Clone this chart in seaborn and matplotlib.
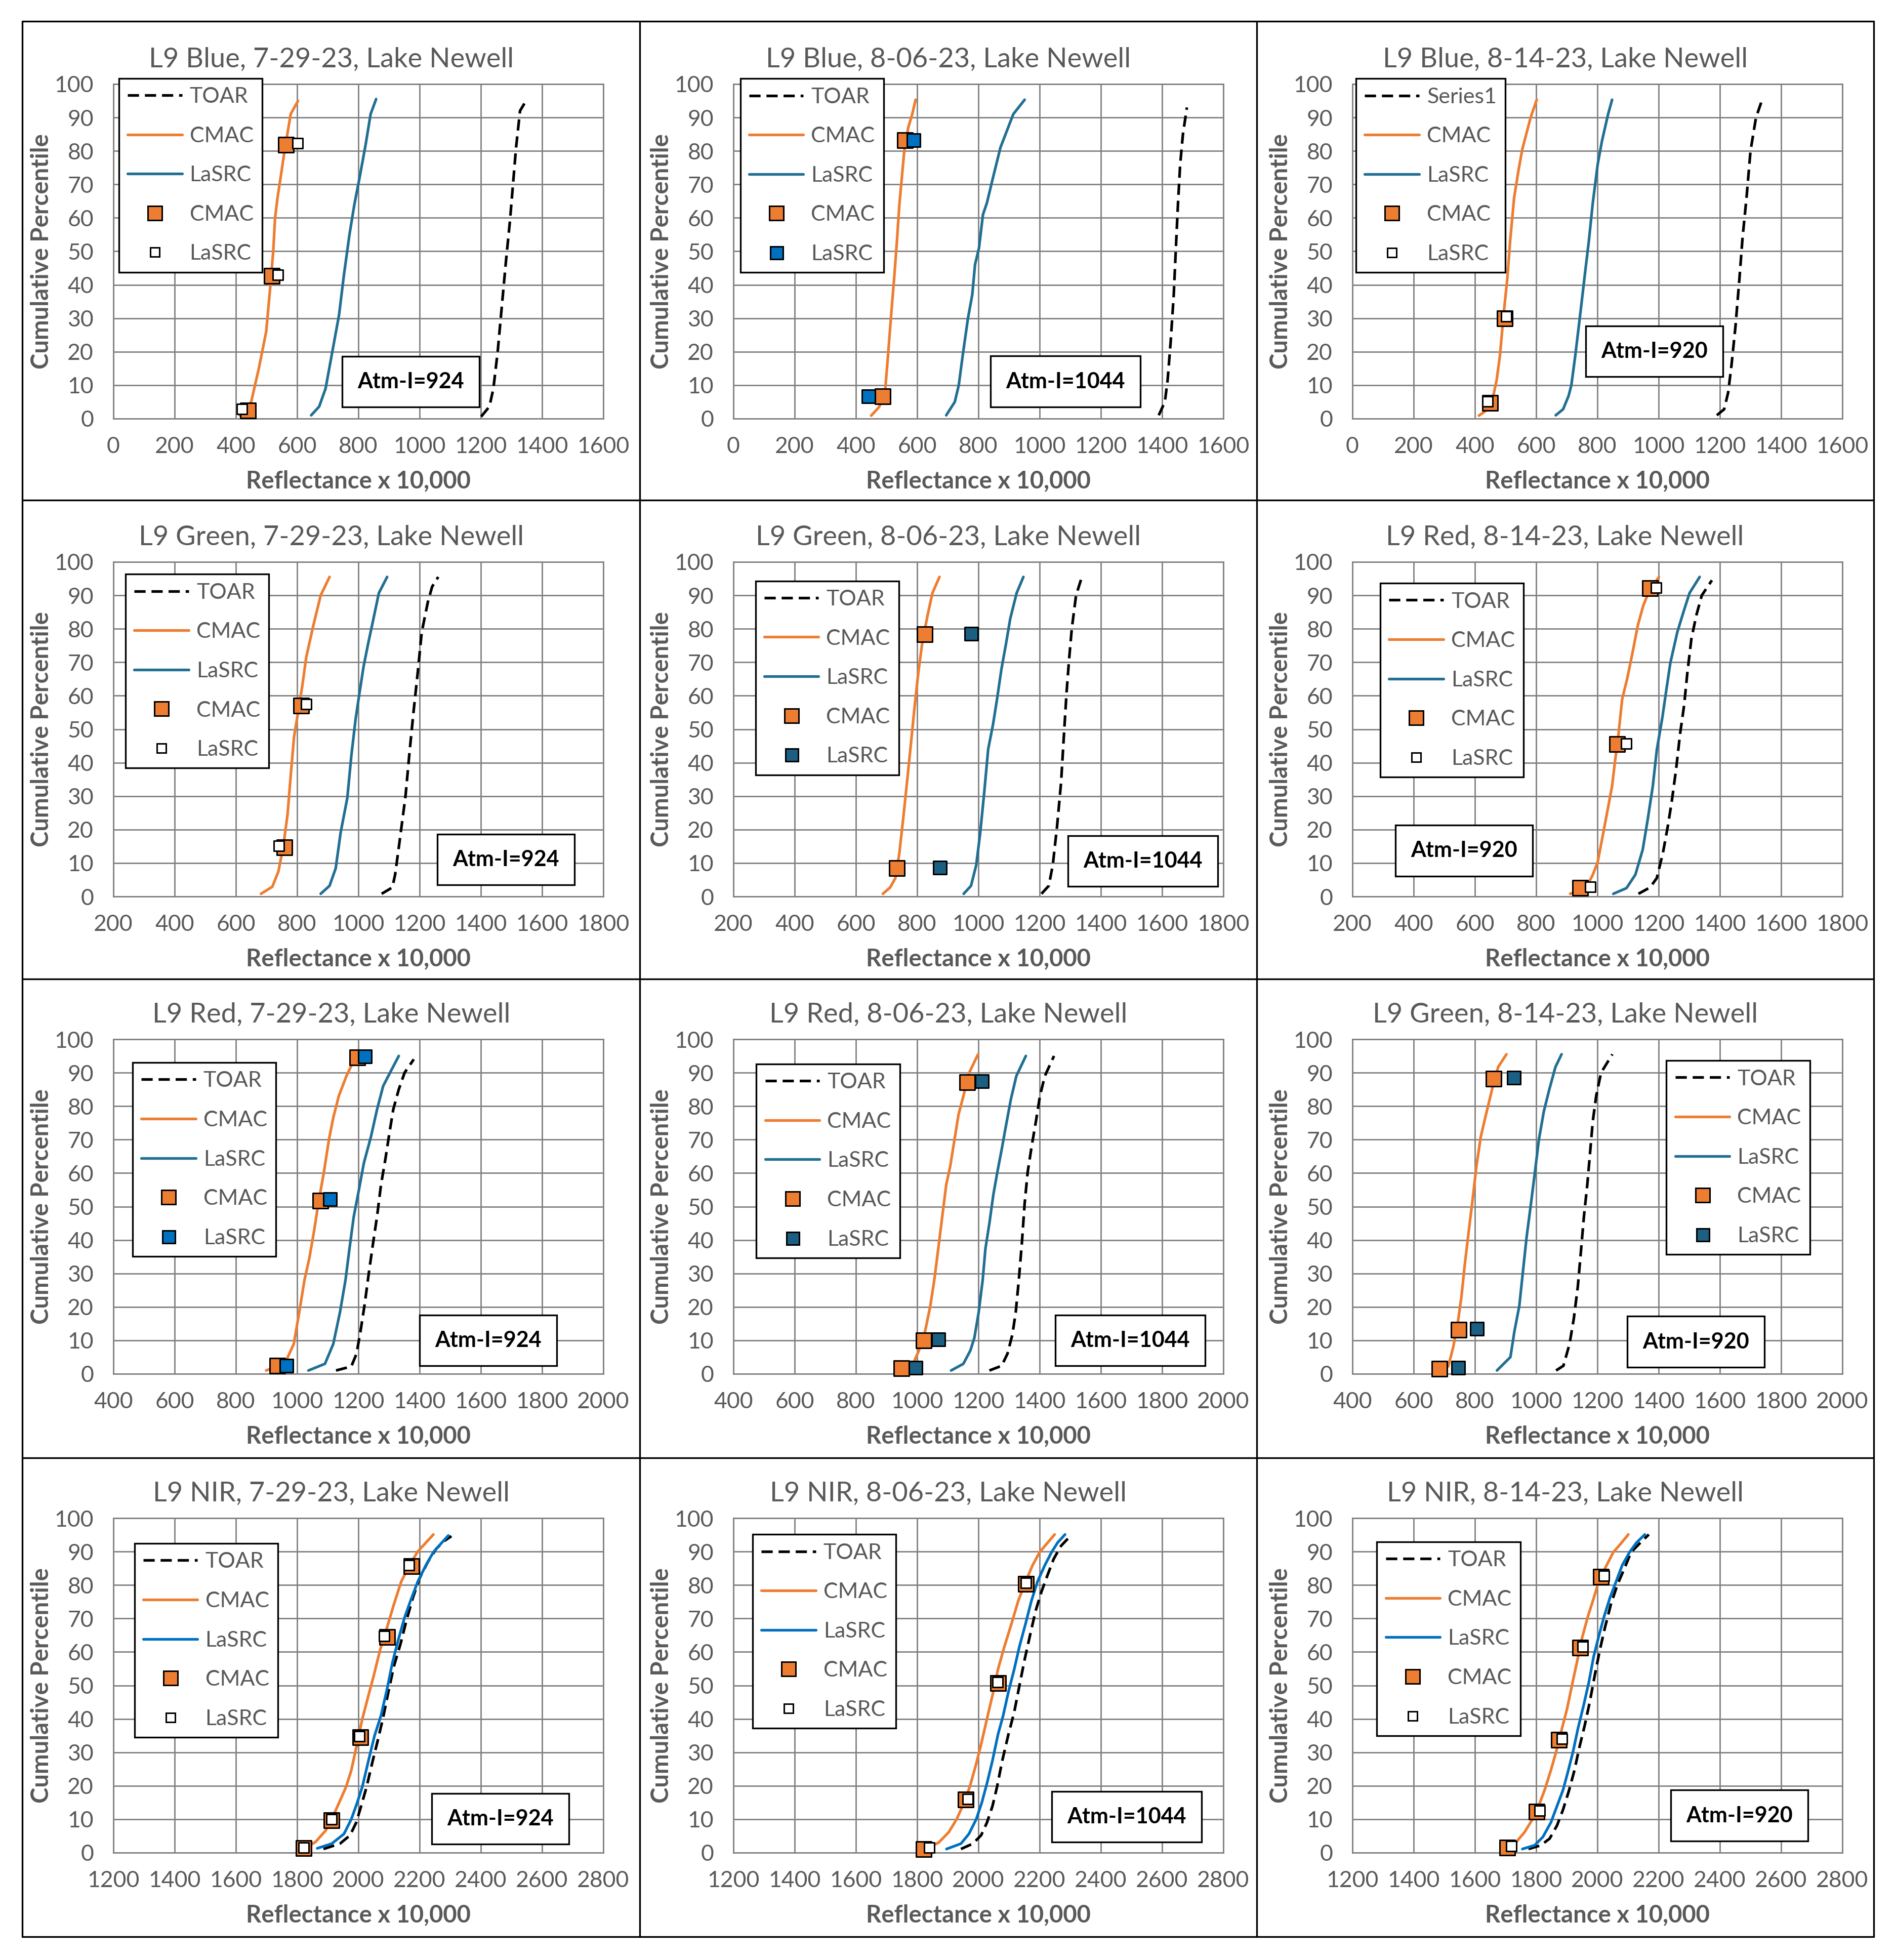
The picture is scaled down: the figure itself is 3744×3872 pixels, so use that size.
import matplotlib
matplotlib.use("Agg")
import matplotlib.pyplot as plt
import seaborn as sns
from matplotlib.lines import Line2D

# ------------------------------------------------------------------ data
TITLES = ["L9 Blue, 7-29-23, Lake Newell", "L9 Blue, 8-06-23, Lake Newell", "L9 Blue, 8-14-23, Lake Newell",
          "L9 Green, 7-29-23, Lake Newell", "L9 Green, 8-06-23, Lake Newell", "L9 Red, 8-14-23, Lake Newell",
          "L9 Red, 7-29-23, Lake Newell", "L9 Red, 8-06-23, Lake Newell", "L9 Green, 8-14-23, Lake Newell",
          "L9 NIR, 7-29-23, Lake Newell", "L9 NIR, 8-06-23, Lake Newell", "L9 NIR, 8-14-23, Lake Newell"]
ATM_LABELS = ["Atm-I=924", "Atm-I=1044", "Atm-I=920",
              "Atm-I=924", "Atm-I=1044", "Atm-I=920",
              "Atm-I=924", "Atm-I=1044", "Atm-I=920",
              "Atm-I=924", "Atm-I=1044", "Atm-I=920"]
FIRST_LEGEND_LABEL = ["TOAR", "TOAR", "Series1", "TOAR", "TOAR", "TOAR",
                      "TOAR", "TOAR", "TOAR", "TOAR", "TOAR", "TOAR"]
X_MIN = [0, 0, 0, 200, 200, 200, 400, 400, 400, 1200, 1200, 1200]
X_MAX = [1600, 1600, 1600, 1800, 1800, 1800, 2000, 2000, 2000, 2800, 2800, 2800]
Y_TICKS = [0, 10, 20, 30, 40, 50, 60, 70, 80, 90, 100]
X_LABEL = "Reflectance x 10,000"
Y_LABEL = "Cumulative Percentile"

# Panel 1  Blue 7-29
P1_TOAR_X = [1201, 1228, 1241, 1255, 1268, 1282, 1295, 1305, 1315, 1328, 1351]
P1_TOAR_P = [0.6, 3.6, 9, 20, 33, 47, 59, 70, 81, 92, 95.5]
P1_CMAC_X = [412, 450, 475, 499, 512, 522, 528, 536, 546, 559, 579, 603]
P1_CMAC_P = [1, 5, 15, 26, 39, 50, 60, 66, 72, 80, 91, 95]
P1_LASRC_X = [646, 672, 693, 713, 737, 753, 771, 787, 804, 824, 840, 858]
P1_LASRC_P = [1, 3.6, 9, 19, 31, 43, 55, 64, 72, 82, 91, 95.5]
P1_CMAC_PT_X = [439, 518, 563]
P1_CMAC_PT_P = [2.4, 42.7, 81.9]
P1_LASRC_PT_X = [420, 538, 602]
P1_LASRC_PT_P = [2.9, 43, 82.3]

# Panel 2  Blue 8-06
P2_TOAR_X = [1389, 1409, 1418, 1428, 1438, 1445, 1452, 1459, 1468, 1481]
P2_TOAR_P = [1, 5, 11.5, 23, 37, 51, 64.5, 76, 85, 93]
P2_CMAC_X = [450, 476, 495, 505, 516, 525, 534, 542, 549, 558, 571, 584, 595]
P2_CMAC_P = [0.9, 3.5, 7.8, 19, 32, 42, 53, 64, 71, 80, 87, 91, 95.3]
P2_LASRC_X = [695, 723, 736, 749, 766, 780, 789, 802, 815, 828, 845, 872, 914, 951]
P2_LASRC_P = [1, 5, 10, 19, 30, 37, 46, 51, 61, 64.5, 71, 81, 91, 95.3]
P2_CMAC_PT_X = [487, 561]
P2_CMAC_PT_P = [6.6, 83.2]
P2_LASRC_PT_X = [442, 588]
P2_LASRC_PT_P = [6.6, 83.2]

# Panel 3  Blue 8-14
P3_TOAR_X = [1190, 1214, 1227, 1238, 1251, 1264, 1274, 1287, 1300, 1318, 1338]
P3_TOAR_P = [1, 2.8, 7.8, 16, 27.6, 42, 54, 66, 80, 90, 95.3]
P3_CMAC_X = [413, 435, 458, 471, 482, 493, 506, 515, 528, 542, 555, 582, 602]
P3_CMAC_P = [0.9, 2.3, 5.9, 11.5, 19, 30.5, 42, 53, 66, 74, 80.6, 90, 95.3]
P3_LASRC_X = [664, 688, 706, 715, 728, 745, 759, 772, 785, 801, 815, 835, 848]
P3_LASRC_P = [1, 2.8, 6.8, 10, 19, 32, 43, 53, 64.5, 76, 83, 91, 95.3]
P3_CMAC_PT_X = [449, 498]
P3_CMAC_PT_P = [4.7, 30]
P3_LASRC_PT_X = [441, 503]
P3_LASRC_PT_P = [5.1, 30.5]

# Panel 4  Green 7-29
P4_TOAR_X = [1076, 1111, 1120, 1134, 1154, 1167, 1180, 1194, 1207, 1227, 1241, 1261]
P4_TOAR_P = [0.8, 2.7, 6.5, 16, 30, 43, 55, 67, 79, 88, 92.6, 95.5]
P4_CMAC_X = [682, 719, 739, 755, 769, 779, 790, 803, 817, 830, 853, 877, 906]
P4_CMAC_P = [0.8, 2.9, 7.5, 15, 24.7, 36, 47.7, 55, 63, 71.6, 81, 90, 95.5]
P4_LASRC_X = [877, 906, 926, 942, 964, 977, 991, 1004, 1017, 1033, 1047, 1067, 1094]
P4_LASRC_P = [0.8, 3.2, 8.4, 19, 29.5, 42, 53, 61, 68.7, 76, 82, 90.7, 95.5]
P4_CMAC_PT_X = [759, 813]
P4_CMAC_PT_P = [14.6, 57]
P4_LASRC_PT_X = [740, 829]
P4_LASRC_PT_P = [15.1, 57.5]

# Panel 5  Green 8-06
P5_TOAR_X = [1206, 1230, 1243, 1257, 1270, 1279, 1288, 1296, 1305, 1319, 1338]
P5_TOAR_P = [0.8, 3.2, 9.4, 21, 34, 47.7, 61, 70.6, 80, 90, 95.5]
P5_CMAC_X = [688, 712, 729, 742, 755, 769, 782, 792, 804, 817, 834, 850, 873]
P5_CMAC_P = [0.8, 2.7, 5.5, 13, 23.7, 36, 47.7, 57, 67, 76, 84, 90.7, 95.5]
P5_LASRC_X = [952, 976, 993, 1006, 1019, 1032, 1048, 1061, 1075, 1090, 1104, 1125, 1147]
P5_LASRC_P = [0.8, 3.2, 9.4, 19, 31, 44, 51.5, 59, 67.8, 75.4, 83, 90.7, 95.5]
P5_CMAC_PT_X = [734, 825]
P5_CMAC_PT_P = [8.4, 78.3]
P5_LASRC_PT_X = [874, 977]
P5_LASRC_PT_P = [8.6, 78.5]

# Panel 6  Red 8-14
P6_TOAR_X = [1134, 1172, 1194, 1214, 1230, 1243, 1257, 1270, 1283, 1294, 1307, 1323, 1341, 1374]
P6_TOAR_P = [0.8, 2.7, 5.5, 13, 21, 28.5, 38, 48.6, 57, 67, 77, 84, 90, 94.5]
P6_CMAC_X = [911, 964, 985, 1001, 1015, 1031, 1048, 1057, 1068, 1081, 1097, 1114, 1132, 1150, 1168, 1201]
P6_CMAC_P = [0.8, 2.7, 6.5, 10.3, 17, 24.7, 33, 40, 47.7, 59, 65, 72.5, 81, 87, 91, 95.5]
P6_LASRC_X = [1052, 1095, 1124, 1148, 1164, 1181, 1194, 1212, 1224, 1238, 1261, 1281, 1301, 1334]
P6_LASRC_P = [0.8, 2.5, 6.5, 14, 22.8, 33, 43.8, 53.4, 61, 69.7, 79, 85, 90.7, 95.5]
P6_CMAC_PT_X = [944, 1064, 1172]
P6_CMAC_PT_P = [2.5, 45.5, 92.2]
P6_LASRC_PT_X = [977, 1095, 1192]
P6_LASRC_PT_P = [2.9, 45.7, 92.3]

# Panel 7  Red 7-29
P7_TOAR_X = [1127, 1177, 1194, 1207, 1221, 1234, 1248, 1261, 1274, 1288, 1301, 1314, 1332, 1351, 1381]
P7_TOAR_P = [1, 2.2, 6, 12.7, 21, 30, 39, 47, 56.5, 64, 71.7, 79, 85, 90, 94]
P7_CMAC_X = [899, 960, 989, 1007, 1024, 1040, 1056, 1069, 1087, 1104, 1118, 1136, 1161, 1187]
P7_CMAC_P = [1, 3.1, 8.9, 18.4, 28, 34.6, 43, 50.8, 60, 70, 76.5, 83, 89, 94]
P7_LASRC_X = [1037, 1091, 1118, 1140, 1158, 1171, 1185, 1201, 1218, 1241, 1261, 1281, 1308, 1332]
P7_LASRC_P = [1, 3, 8.9, 18.4, 28, 37.4, 47, 54.6, 63, 70.8, 79, 86, 90.8, 95]
P7_CMAC_PT_X = [936, 1076, 1197]
P7_CMAC_PT_P = [2.4, 51.7, 94.6]
P7_LASRC_PT_X = [966, 1107, 1222]
P7_LASRC_PT_P = [2.4, 52.2, 94.9]

# Panel 8  Red 8-06
P8_TOAR_X = [1236, 1276, 1295, 1311, 1322, 1332, 1342, 1351, 1361, 1374, 1388, 1401, 1417, 1447]
P8_TOAR_P = [1, 2.4, 6, 11.7, 18.4, 28, 39, 50.8, 60.3, 68, 75.5, 83, 89, 95]
P8_CMAC_X = [983, 1006, 1026, 1043, 1056, 1069, 1082, 1095, 1108, 1122, 1135, 1151, 1170, 1199]
P8_CMAC_P = [2.2, 7, 12.7, 20.3, 28, 37.4, 47, 56.5, 62, 70, 77.4, 83, 90, 95.5]
P8_LASRC_X = [1111, 1151, 1174, 1187, 1201, 1214, 1223, 1236, 1249, 1262, 1276, 1289, 1306, 1324, 1355]
P8_LASRC_P = [1, 3, 7, 10.8, 18.4, 28, 37.4, 45, 53.6, 60.3, 67, 73.6, 82, 89, 95]
P8_CMAC_PT_X = [949, 1022, 1164]
P8_CMAC_PT_P = [1.6, 10, 87.2]
P8_LASRC_PT_X = [995, 1069, 1212]
P8_LASRC_PT_P = [1.8, 10.3, 87.4]

# Panel 9  Green 8-14
P9_TOAR_X = [1065, 1089, 1109, 1123, 1136, 1147, 1156, 1167, 1176, 1185, 1196, 1212, 1249]
P9_TOAR_P = [1, 2.4, 8.9, 16.5, 26, 37.4, 47, 56.5, 66, 75.5, 83, 90, 95.5]
P9_CMAC_X = [713, 729, 743, 756, 767, 779, 792, 805, 819, 836, 856, 876, 903]
P9_CMAC_P = [2.2, 7.9, 14.6, 23, 32.7, 42, 51.7, 62, 70.8, 77.4, 85, 91.7, 95.5]
P9_LASRC_X = [872, 916, 929, 945, 956, 969, 983, 996, 1009, 1025, 1043, 1063, 1083]
P9_LASRC_P = [1, 5, 12.7, 20.3, 29.8, 41, 50.8, 60.3, 70, 78.4, 85, 91.7, 95.5]
P9_CMAC_PT_X = [685, 747, 861]
P9_CMAC_PT_P = [1.5, 13.1, 88.2]
P9_LASRC_PT_X = [745, 807, 927]
P9_LASRC_PT_P = [1.8, 13.4, 88.5]

# Panel 10  NIR 7-29
P10_TOAR_X = [1886, 1940, 1973, 1993, 2009, 2027, 2047, 2063, 2080, 2098, 2116, 2138, 2157, 2178, 2200, 2227, 2254, 2281, 2304]
P10_TOAR_P = [1.1, 2.7, 5.2, 9, 13.9, 19.7, 27.5, 33.4, 40, 48, 55.7, 62.5, 69.4, 76.2, 82, 86.9, 90.8, 93.2, 94.6]
P10_CMAC_X = [1822, 1860, 1893, 1913, 1937, 1960, 1977, 1993, 2013, 2033, 2050, 2071, 2094, 2116, 2140, 2167, 2194, 2221, 2245]
P10_CMAC_P = [1.1, 3.2, 6.6, 10, 14.9, 19.7, 24.6, 31.4, 40, 47, 52.8, 60.6, 67.4, 74.2, 81, 86, 90, 92.7, 95.1]
P10_LASRC_X = [1866, 1913, 1953, 1977, 1996, 2013, 2033, 2053, 2074, 2094, 2111, 2130, 2151, 2174, 2194, 2221, 2245, 2268, 2294]
P10_LASRC_P = [1.3, 2.7, 5.6, 10, 14.9, 19.7, 27.5, 35, 41, 49, 56.7, 63.5, 70.3, 76.2, 81, 86, 89.8, 92.2, 94.8]
P10_CMAC_PT_X = [1821, 1913, 2007, 2094, 2174]
P10_CMAC_PT_P = [1.3, 9.7, 34.5, 64.5, 85.7]
P10_LASRC_PT_X = [1821, 1913, 2004, 2085, 2165]
P10_LASRC_PT_P = [1.5, 10, 34.8, 64.8, 85.9]

# Panel 11  NIR 8-06
P11_TOAR_X = [1943, 1982, 2009, 2028, 2046, 2061, 2078, 2098, 2117, 2134, 2151, 2170, 2187, 2206, 2226, 2246, 2270, 2305]
P11_TOAR_P = [1.1, 2.7, 5.2, 9, 13.9, 19.7, 27.5, 35.3, 42, 49.9, 57.7, 65.5, 72.3, 78, 83, 87.8, 91.7, 95.1]
P11_CMAC_X = [1824, 1870, 1903, 1929, 1953, 1972, 1993, 2009, 2028, 2046, 2064, 2085, 2108, 2130, 2154, 2177, 2200, 2222, 2249]
P11_CMAC_P = [1.1, 3, 6.1, 10, 14.9, 19.7, 26.6, 32.4, 40, 47, 54.8, 61.6, 68.4, 75.2, 81, 85.9, 89.8, 92.2, 95.1]
P11_LASRC_X = [1896, 1943, 1969, 1993, 2011, 2028, 2046, 2064, 2081, 2098, 2117, 2134, 2154, 2173, 2193, 2217, 2239, 2259, 2283]
P11_LASRC_P = [1.1, 2.7, 5.6, 10, 14.9, 20.7, 27.5, 35.3, 41, 48, 54.8, 61.6, 68.4, 75.2, 81, 85.9, 89.8, 92.7, 95.1]
P11_CMAC_PT_X = [1821, 1959, 2065, 2156]
P11_CMAC_PT_P = [1.1, 15.9, 50.7, 80.3]
P11_LASRC_PT_X = [1840, 1965, 2063, 2155]
P11_LASRC_PT_P = [1.5, 16.1, 51, 80.7]

# Panel 12  NIR 8-14
P12_TOAR_X = [1775, 1815, 1844, 1868, 1888, 1908, 1925, 1941, 1959, 1975, 1991, 2008, 2025, 2044, 2065, 2088, 2110, 2141, 2168]
P12_TOAR_P = [1.1, 2.2, 4.2, 8.1, 12.9, 18.8, 24.6, 31.4, 38.2, 45, 52.8, 60.6, 67.4, 74.2, 80, 84.9, 89.8, 92.7, 95.1]
P12_CMAC_X = [1706, 1735, 1762, 1788, 1808, 1828, 1848, 1866, 1882, 1901, 1919, 1935, 1948, 1968, 1985, 2001, 2025, 2052, 2075, 2101]
P12_CMAC_P = [1.5, 3.2, 6.1, 10, 13.9, 18.8, 24.6, 30.4, 36.3, 43, 50.9, 57.7, 63.5, 70.3, 75.2, 80, 85, 89.8, 92.2, 95.1]
P12_LASRC_X = [1755, 1795, 1822, 1848, 1868, 1888, 1905, 1921, 1937, 1955, 1972, 1988, 2004, 2021, 2041, 2061, 2081, 2105, 2128, 2155]
P12_LASRC_P = [1.1, 2.2, 4.7, 9, 13.9, 18.8, 24.6, 30.4, 37.3, 44, 50.9, 58.7, 64.5, 70.3, 76.2, 81, 85.9, 89.8, 92.7, 95.1]
P12_CMAC_PT_X = [1706, 1802, 1875, 1944, 2012]
P12_CMAC_PT_P = [1.5, 12.3, 33.7, 61.3, 82.5]
P12_LASRC_PT_X = [1719, 1811, 1884, 1952, 2021]
P12_LASRC_PT_P = [2, 12.6, 34.1, 61.6, 82.7]

PANEL_DATA = [
    (P1_TOAR_X, P1_TOAR_P, P1_CMAC_X, P1_CMAC_P, P1_LASRC_X, P1_LASRC_P, P1_CMAC_PT_X, P1_CMAC_PT_P, P1_LASRC_PT_X, P1_LASRC_PT_P),
    (P2_TOAR_X, P2_TOAR_P, P2_CMAC_X, P2_CMAC_P, P2_LASRC_X, P2_LASRC_P, P2_CMAC_PT_X, P2_CMAC_PT_P, P2_LASRC_PT_X, P2_LASRC_PT_P),
    (P3_TOAR_X, P3_TOAR_P, P3_CMAC_X, P3_CMAC_P, P3_LASRC_X, P3_LASRC_P, P3_CMAC_PT_X, P3_CMAC_PT_P, P3_LASRC_PT_X, P3_LASRC_PT_P),
    (P4_TOAR_X, P4_TOAR_P, P4_CMAC_X, P4_CMAC_P, P4_LASRC_X, P4_LASRC_P, P4_CMAC_PT_X, P4_CMAC_PT_P, P4_LASRC_PT_X, P4_LASRC_PT_P),
    (P5_TOAR_X, P5_TOAR_P, P5_CMAC_X, P5_CMAC_P, P5_LASRC_X, P5_LASRC_P, P5_CMAC_PT_X, P5_CMAC_PT_P, P5_LASRC_PT_X, P5_LASRC_PT_P),
    (P6_TOAR_X, P6_TOAR_P, P6_CMAC_X, P6_CMAC_P, P6_LASRC_X, P6_LASRC_P, P6_CMAC_PT_X, P6_CMAC_PT_P, P6_LASRC_PT_X, P6_LASRC_PT_P),
    (P7_TOAR_X, P7_TOAR_P, P7_CMAC_X, P7_CMAC_P, P7_LASRC_X, P7_LASRC_P, P7_CMAC_PT_X, P7_CMAC_PT_P, P7_LASRC_PT_X, P7_LASRC_PT_P),
    (P8_TOAR_X, P8_TOAR_P, P8_CMAC_X, P8_CMAC_P, P8_LASRC_X, P8_LASRC_P, P8_CMAC_PT_X, P8_CMAC_PT_P, P8_LASRC_PT_X, P8_LASRC_PT_P),
    (P9_TOAR_X, P9_TOAR_P, P9_CMAC_X, P9_CMAC_P, P9_LASRC_X, P9_LASRC_P, P9_CMAC_PT_X, P9_CMAC_PT_P, P9_LASRC_PT_X, P9_LASRC_PT_P),
    (P10_TOAR_X, P10_TOAR_P, P10_CMAC_X, P10_CMAC_P, P10_LASRC_X, P10_LASRC_P, P10_CMAC_PT_X, P10_CMAC_PT_P, P10_LASRC_PT_X, P10_LASRC_PT_P),
    (P11_TOAR_X, P11_TOAR_P, P11_CMAC_X, P11_CMAC_P, P11_LASRC_X, P11_LASRC_P, P11_CMAC_PT_X, P11_CMAC_PT_P, P11_LASRC_PT_X, P11_LASRC_PT_P),
    (P12_TOAR_X, P12_TOAR_P, P12_CMAC_X, P12_CMAC_P, P12_LASRC_X, P12_LASRC_P, P12_CMAC_PT_X, P12_CMAC_PT_P, P12_LASRC_PT_X, P12_LASRC_PT_P),
]

# ------------------------------------------------------------------ styles
ORANGE = "#ED7D31"
TEAL_LINE = "#216F93"
BLUE = "#0070C0"
TEAL_MARK = "#1B5F82"
GRAY_TXT = "#595959"
GRID = "#808080"
LASRC_LINE_COLOR = [TEAL_LINE] * 9 + [BLUE] * 3
LASRC_MARK_COLOR = ["white", BLUE, "white", "white", TEAL_MARK, "white",
                    BLUE, TEAL_MARK, TEAL_MARK, "white", "white", "white"]
LEGEND_POS = [(0.011, 1.017), (0.014, 1.016), (0.0075, 1.016),
              (0.025, 0.963), (0.045, 0.943), (0.057, 0.936),
              (0.039, 0.930), (0.047, 0.926), (0.641, 0.936),
              (0.043, 0.924), (0.039, 0.951), (0.050, 0.929)]
ATM_POS = [(0.607, 0.110), (0.678, 0.111), (0.616, 0.201),
           (0.801, 0.110), (0.836, 0.106), (0.228, 0.137),
           (0.765, 0.100), (0.810, 0.100), (0.701, 0.096),
           (0.790, 0.101), (0.803, 0.107), (0.790, 0.111)]

W, H = 3744, 3872
PANEL_LEFT = [44, 1264, 2483]
PANEL_RIGHT = 3702
PANEL_TOP = [42, 988, 1934, 2880]
PANEL_BOTTOM = 3826
AX_LEFT_OFF = [180, 185, 189]
AX_TOP_OFF = [124, 122, 119, 119]
AX_W = 968
AX_H = 661
TITLE_X = [0.445, 0.439, 0.434]
TOAR_DASH = (0, (4.2, 2.2))
LINE_W = 3.8
CMAC_MS = 22
LASRC_MS_WHITE = 14
LASRC_MS_COLOR = 19

sns.set_theme(style="white")
plt.rcParams["font.family"] = ["Lato", "DejaVu Sans"]

fig = plt.figure(figsize=(W / 100, H / 100), dpi=100)
fig.patch.set_facecolor("white")

for i, data in enumerate(PANEL_DATA):
    (tx, tp, cx, cp, lx, lp, cmx, cmp_, lmx, lmp) = data
    r, c = divmod(i, 3)
    left = (PANEL_LEFT[c] + AX_LEFT_OFF[c]) / W
    top_px = PANEL_TOP[r] + AX_TOP_OFF[r]
    bottom = 1 - (top_px + AX_H) / H
    ax = fig.add_axes([left, bottom, AX_W / W, AX_H / H])
    ax.set_facecolor("white")

    sns.lineplot(x=tx, y=tp, ax=ax, color="black", linewidth=LINE_W, linestyle=TOAR_DASH,
                 sort=False, estimator=None, legend=False, zorder=3)
    sns.lineplot(x=cx, y=cp, ax=ax, color=ORANGE, linewidth=LINE_W, sort=False,
                 estimator=None, legend=False, zorder=3)
    sns.lineplot(x=lx, y=lp, ax=ax, color=LASRC_LINE_COLOR[i], linewidth=LINE_W, sort=False,
                 estimator=None, legend=False, zorder=3)

    sns.scatterplot(x=cmx, y=cmp_, ax=ax, marker="s", s=CMAC_MS ** 2, color=ORANGE,
                    edgecolor="black", linewidth=2.2, legend=False, zorder=5, clip_on=False)
    lcol = LASRC_MARK_COLOR[i]
    lsize = LASRC_MS_WHITE if lcol == "white" else LASRC_MS_COLOR
    sns.scatterplot(x=lmx, y=lmp, ax=ax, marker="s", s=lsize ** 2, color=lcol,
                    edgecolor="black", linewidth=2.2, legend=False, zorder=6, clip_on=False)

    ax.set_xlim(X_MIN[i], X_MAX[i])
    ax.set_ylim(0, 100)
    ax.set_xticks(list(range(X_MIN[i], X_MAX[i] + 1, 200)))
    ax.set_yticks(Y_TICKS)
    ax.grid(True, color=GRID, linewidth=2)
    ax.set_axisbelow(True)
    for sp in ax.spines.values():
        sp.set_color(GRID)
        sp.set_linewidth(2)
    ax.tick_params(axis="both", length=0, labelsize=32, labelcolor=GRAY_TXT)
    ax.tick_params(axis="y", pad=28)
    ax.tick_params(axis="x", pad=25)

    ax.set_title(TITLES[i], x=TITLE_X[c], y=1.061, va="center", fontsize=39, color=GRAY_TXT)
    ax.set_xlabel(X_LABEL, fontsize=34, fontweight="bold", color=GRAY_TXT)
    ax.set_ylabel(Y_LABEL, fontsize=34, fontweight="bold", color=GRAY_TXT)
    ax.xaxis.set_label_coords(0.5, -0.186)
    ax.xaxis.label.set_va("center")
    ax.yaxis.set_label_coords(-0.147, 0.5)
    ax.yaxis.label.set_va("center")

    handles = [
        Line2D([], [], color="black", linewidth=LINE_W, linestyle=TOAR_DASH),
        Line2D([], [], color=ORANGE, linewidth=LINE_W),
        Line2D([], [], color=LASRC_LINE_COLOR[i], linewidth=LINE_W),
        Line2D([], [], marker="s", markersize=CMAC_MS - 2, markerfacecolor=ORANGE,
               markeredgecolor="black", markeredgewidth=2.2, linestyle=""),
        Line2D([], [], marker="s", markersize=lsize - 1, markerfacecolor=lcol,
               markeredgecolor="black", markeredgewidth=2.2, linestyle=""),
    ]
    labels = [FIRST_LEGEND_LABEL[i], "CMAC", "LaSRC", "CMAC", "LaSRC"]
    leg = ax.legend(handles, labels, loc="upper left", bbox_to_anchor=LEGEND_POS[i],
                    borderaxespad=0, fontsize=31, labelcolor=GRAY_TXT, frameon=True,
                    fancybox=False, framealpha=1, edgecolor="black", handlelength=2.5,
                    handletextpad=0.35, labelspacing=0.92, borderpad=0.4)
    leg.get_frame().set_linewidth(2.4)
    leg.set_zorder(10)

    ax.text(ATM_POS[i][0], ATM_POS[i][1], ATM_LABELS[i], transform=ax.transAxes,
            ha="center", va="center", fontsize=31, fontweight="bold", color="black",
            zorder=11,
            bbox=dict(boxstyle="square,pad=0.7", facecolor="white", edgecolor="black", linewidth=2.4))

# panel frame lines
for x in PANEL_LEFT + [PANEL_RIGHT]:
    fig.add_artist(Line2D([x / W, x / W], [1 - PANEL_TOP[0] / H, 1 - PANEL_BOTTOM / H],
                          transform=fig.transFigure, color="black", linewidth=2.4))
for y in PANEL_TOP + [PANEL_BOTTOM]:
    fig.add_artist(Line2D([PANEL_LEFT[0] / W, PANEL_RIGHT / W], [1 - y / H, 1 - y / H],
                          transform=fig.transFigure, color="black", linewidth=2.4))

fig.savefig("out.png", dpi=100, facecolor="white")
